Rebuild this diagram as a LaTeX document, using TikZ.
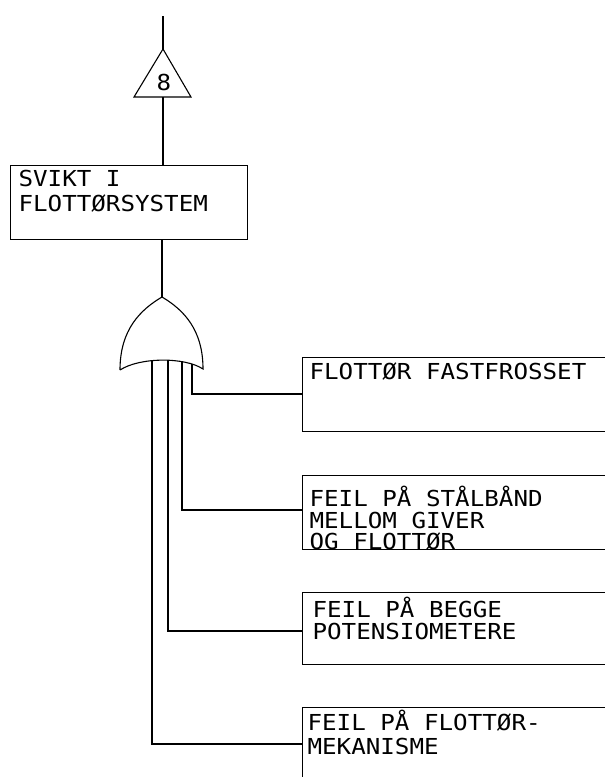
\documentclass[tikz,border=0pt]{standalone}
\usepackage{fontspec}
\newfontfamily\plotfont[FakeStretch=1.1]{DejaVu Sans Mono}
\begin{document}
\begin{tikzpicture}[x=1pt,y=-1pt,line width=1.1pt,
  box/.style={draw,anchor=north west,inner sep=0pt},
  txt/.style={anchor=base west,inner sep=0pt,font=\plotfont\fontsize{22}{24}\selectfont},
  wire/.style={draw}]
\useasboundingbox (0,0) rectangle (605,777);
\clip (0,0) rectangle (605,777);
% transfer triangle
\coordinate (top) at (163,16);
\coordinate (tA) at (163,49);
\coordinate (tL) at (134,97);
\coordinate (tR) at (191,97);
\coordinate (tB) at (163,97);
\draw (tA) -- (tL) -- (tR) -- cycle;
\node[txt,anchor=center] (eight) at (164,82) {8};
\draw (top) -- (tA);
% top event box
\node[box,minimum width=237pt,minimum height=74pt] (top box) at (10,165) {};
\node[txt] (t1) at (18,186) {SVIKT I};
\node[txt] (t2) at (18,211) {FLOTTØRSYSTEM};
\draw (tB) -- (top box.north -| tB);
% OR gate
\coordinate (gA) at (162,297);
\coordinate (gL) at (120,370);
\coordinate (gR) at (203,369);
\draw (gL) .. controls (120,330) and (140,310) .. (gA)
      .. controls (184,310) and (203,330) .. (gR)
      .. controls (185,357) and (140,357) .. (gL);
\draw (top box.south -| gA) -- (gA);
\coordinate (i1) at (192,364);
\coordinate (i2) at (182,361);
\coordinate (i3) at (168,360);
\coordinate (i4) at (152,361);
% basic event boxes
\node[box,minimum width=340pt,minimum height=74pt] (bA) at (302,357) {};
\node[box,minimum width=340pt,minimum height=74pt] (bB) at (302,475) {};
\node[box,minimum width=340pt,minimum height=72pt] (bC) at (302,592) {};
\node[box,minimum width=340pt,minimum height=120pt] (bD) at (302,707) {};
\node[txt] (a1) at (309,379) {FLOTTØR FASTFROSSET};
\node[txt] (b1) at (309,506) {FEIL PÅ STÅLBÅND};
\node[txt] (b2) at (309,528) {MELLOM GIVER};
\node[txt] (b3) at (309,549) {OG FLOTTØR};
\node[txt] (c1) at (312,617) {FEIL PÅ BEGGE};
\node[txt] (c2) at (312,639) {POTENSIOMETERE};
\node[txt] (d1) at (307,730) {FEIL PÅ FLOTTØR-};
\node[txt] (d2) at (307,754) {MEKANISME};
% connectors
\coordinate (jA) at (302,394);
\coordinate (jB) at (302,510);
\coordinate (jC) at (302,631);
\coordinate (jD) at (302,744);
\draw (i1) |- (jA);
\draw (i2) |- (jB);
\draw (i3) |- (jC);
\draw (i4) |- (jD);
\end{tikzpicture}
\end{document}
